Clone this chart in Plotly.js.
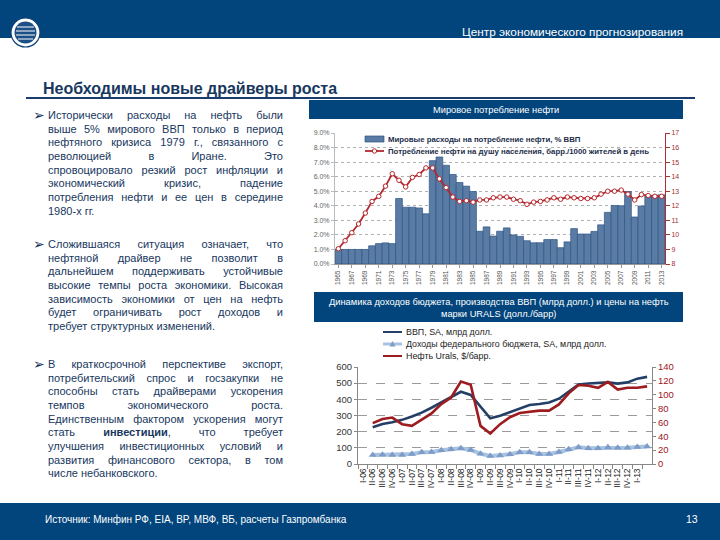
<!DOCTYPE html>
<html><head><meta charset="utf-8">
<script src="https://cdn.plot.ly/plotly-3.0.1.min.js"></script>
<style>
body{margin:0;background:#fff;}
#wrap{position:relative;width:720px;height:540px;overflow:hidden;}
#chart{position:absolute;left:0;top:0;width:720px;height:540px;}
.para{position:absolute;left:48px;width:235px;font-family:'Liberation Sans',Arial,sans-serif;font-size:11px;line-height:13.65px;color:#17375e;}
.para div{text-align:justify;text-align-last:justify;white-space:normal;}
.para div.last{text-align-last:left;}
.bul{position:absolute;left:-15px;top:-1px;font-family:'DejaVu Sans',sans-serif;font-size:14px;line-height:14px;color:#17375e;}
</style></head>
<body><div id="wrap"><div id="chart"></div>
<div class="para" style="top:109px"><span class="bul">➢</span>
<div>Исторически расходы на нефть были</div>
<div>выше 5% мирового ВВП только в период</div>
<div>нефтяного кризиса 1979 г., связанного с</div>
<div>революцией в Иране. Это</div>
<div>спровоцировало резкий рост инфляции и</div>
<div>экономический кризис, падение</div>
<div>потребления нефти и ее цен в середине</div>
<div class="last">1980-х гг.</div>
</div>
<div class="para" style="top:238px"><span class="bul">➢</span>
<div>Сложившаяся ситуация означает, что</div>
<div>нефтяной драйвер не позволит в</div>
<div>дальнейшем поддерживать устойчивые</div>
<div>высокие темпы роста экономики. Высокая</div>
<div>зависимость экономики от цен на нефть</div>
<div>будет ограничивать рост доходов и</div>
<div class="last">требует структурных изменений.</div>
</div>
<div class="para" style="top:358px"><span class="bul">➢</span>
<div>В краткосрочной перспективе экспорт,</div>
<div>потребительский спрос и госзакупки не</div>
<div>способны стать драйверами ускорения</div>
<div>темпов экономического роста.</div>
<div>Единственным фактором ускорения могут</div>
<div>стать <b>инвестиции</b>, что требует</div>
<div>улучшения инвестиционных условий и</div>
<div>развития финансового сектора, в том</div>
<div class="last">числе небанковского.</div>
</div>
</div>
<script>
// ---- top chart data ----
const years = [1965,1966,1967,1968,1969,1970,1971,1972,1973,1974,1975,1976,1977,1978,1979,1980,1981,1982,1983,1984,1985,1986,1987,1988,1989,1990,1991,1992,1993,1994,1995,1996,1997,1998,1999,2000,2001,2002,2003,2004,2005,2006,2007,2008,2009,2010,2011,2012,2013];
const spendShare = [1.0,1.0,1.0,1.0,1.0,1.25,1.4,1.45,1.4,4.5,3.9,3.9,3.85,3.45,7.1,7.35,6.78,6.15,5.6,5.35,4.98,2.25,2.55,1.92,2.25,2.48,2.0,1.9,1.6,1.46,1.46,1.68,1.68,1.12,1.52,2.43,2.06,2.06,2.24,2.69,3.55,4.02,4.0,4.98,3.23,3.98,4.66,4.73,4.75];
const perCapita = [9.05,9.6,10.15,10.75,11.5,12.3,12.65,13.35,14.2,13.75,13.3,13.95,14.15,14.6,14.6,13.85,13.25,12.6,12.3,12.35,12.25,12.4,12.4,12.55,12.6,12.6,12.45,12.35,12.1,12.25,12.3,12.4,12.55,12.45,12.6,12.55,12.5,12.5,12.55,12.8,13.0,13.0,13.08,12.8,12.4,12.77,12.7,12.65,12.65];
const yearTicks = [1965,1967,1969,1971,1973,1975,1977,1979,1981,1983,1985,1987,1989,1991,1993,1995,1997,1999,2001,2003,2005,2007,2009,2011,2013];
const topLegend = ['Мировые расходы на потребление нефти, % ВВП','Потребление нефти на душу населения, барр./1000 жителей в день'];

// ---- bottom chart data ----
const quarters = ['I-06','II-06','III-06','IV-06','I-07','II-07','III-07','IV-07','I-08','II-08','III-08','IV-08','I-09','II-09','III-09','IV-09','I-10','II-10','III-10','IV-10','I-11','II-11','III-11','IV-11','I-12','II-12','III-12','IV-12','I-13','II-13'];
const quarterLabels = ['I-06','II-06','III-06','IV-06','I-07','II-07','III-07','IV-07','I-08','II-08','III-08','IV-08','I-09','II-09','III-09','IV-09','I-10','II-10','III-10','IV-10','I-11','II-11','III-11','IV-11','I-12','II-12','III-12','IV-12','I-13'];
const gdp = [null,228,247,258,273,294,318,348,381,410,447,427,357,283,299,321,346,365,371,380,404,449,491,498,501,505,497,505,528,539];
const budget = [null,56,57,56,56,62,72,74,85,91,97,87,64,50,52,60,72,72,62,62,74,91,103,97,97,103,101,101,105,108];
const urals = [null,59,65,67,57.5,55,64.5,73,86.5,96,119,114.5,55,44,57.5,67.5,73.5,75.5,77,77,86,102,114,113,110,118.5,107.5,110,110,112];
const bottomLegend = ['ВВП, SA, млрд долл.','Доходы федерального бюджета, SA, млрд долл.','Нефть Urals, $/барр.'];

// ---- texts ----
const headerText = 'Центр экономического прогнозирования';
const slideTitle = 'Необходимы новые драйверы роста';
const topTitle = 'Мировое потребление нефти';
const bottomTitle = 'Динамика доходов бюджета, производства ВВП (млрд долл.) и цены на нефть<br>марки URALS (долл./барр)';
const sourceText = 'Источник: Минфин РФ, EIA, BP, МВФ, ВБ, расчеты Газпромбанка';
const pageNo = '13';

const W=720,H=540;
const px=x=>x/W, py=y=>1-y/H;
const NAVY='#01457c', BAR='#5a7ca4', RED='#b5272d', GDPC='#243f66', URC='#9c1c20', BUDL='#a8c2e2', BUDM='#7d9bc6', TXT='#17375e';
const F='Liberation Sans, Arial, sans-serif';

const traces = [
 {type:'bar',x:years,y:spendShare,xaxis:'x',yaxis:'y',marker:{color:BAR,line:{color:'#2d5585',width:0.7}},showlegend:false,hoverinfo:'skip'},
 {type:'scatter',mode:'lines+markers',x:years,y:perCapita,xaxis:'x',yaxis:'y2',line:{color:RED,width:1.8},marker:{symbol:'circle',size:4.5,color:'#fff',line:{color:RED,width:1}},showlegend:false},
 {type:'scatter',mode:'lines+markers',x:quarters,y:budget,xaxis:'x2',yaxis:'y3',line:{color:BUDL,width:4},marker:{symbol:'triangle-up',size:7,color:BUDM},showlegend:false},
 {type:'scatter',mode:'lines',x:quarters,y:gdp,xaxis:'x2',yaxis:'y3',line:{color:GDPC,width:2.6},showlegend:false},
 {type:'scatter',mode:'lines',x:quarters,y:urals,xaxis:'x2',yaxis:'y4',line:{color:URC,width:2.6},showlegend:false}
];

const shapes = [
 {type:'rect',xref:'paper',yref:'paper',x0:0,x1:1,y0:py(38),y1:1,fillcolor:NAVY,line:{width:0},layer:'below'},
 {type:'rect',xref:'paper',yref:'paper',x0:0,x1:1,y0:0,y1:py(503),fillcolor:NAVY,line:{width:0},layer:'below'},
 {type:'circle',xref:'paper',yref:'paper',x0:px(11),x1:px(40),y0:py(47),y1:py(18),fillcolor:'#fff',line:{color:'#0d4275',width:1.2}},
 {type:'circle',xref:'paper',yref:'paper',x0:px(14.5),x1:px(36.5),y0:py(43.5),y1:py(21.5),fillcolor:'#1b4f86',line:{width:0}},
 {type:'line',xref:'paper',yref:'paper',x0:px(17),x1:px(34),y0:py(27),y1:py(27),line:{color:'#fff',width:1}},
 {type:'line',xref:'paper',yref:'paper',x0:px(16),x1:px(35),y0:py(31),y1:py(31),line:{color:'#fff',width:1}},
 {type:'line',xref:'paper',yref:'paper',x0:px(16),x1:px(35),y0:py(35),y1:py(35),line:{color:'#fff',width:1}},
 {type:'line',xref:'paper',yref:'paper',x0:px(18),x1:px(33),y0:py(39),y1:py(39),line:{color:'#fff',width:1}},
 {type:'line',xref:'paper',yref:'paper',x0:px(26),x1:px(695),y0:py(98),y1:py(98),line:{color:'#1b3d6e',width:2}},
 {type:'rect',xref:'paper',yref:'paper',x0:px(309),x1:px(683),y0:py(119),y1:py(100),fillcolor:NAVY,line:{width:0}},
 {type:'rect',xref:'paper',yref:'paper',x0:px(314),x1:px(683),y0:py(322),y1:py(292),fillcolor:NAVY,line:{width:0}},
 // top legend samples
 {type:'rect',xref:'paper',yref:'paper',x0:px(365),x1:px(384),y0:py(142),y1:py(136),fillcolor:BAR,line:{color:'#2d5585',width:0.7}},
 {type:'line',xref:'paper',yref:'paper',x0:px(365),x1:px(384),y0:py(151),y1:py(151),line:{color:RED,width:1.8}},
 {type:'circle',xref:'paper',yref:'paper',x0:px(372.3),x1:px(376.7),y0:py(153.2),y1:py(148.8),fillcolor:'#fff',line:{color:RED,width:1}},
 // bottom legend samples
 {type:'line',xref:'paper',yref:'paper',x0:px(383),x1:px(402),y0:py(332),y1:py(332),line:{color:GDPC,width:2}},
 {type:'line',xref:'paper',yref:'paper',x0:px(383),x1:px(402),y0:py(344),y1:py(344),line:{color:BUDL,width:3}},
 {type:'path',xref:'paper',yref:'paper',path:`M ${px(389.5)} ${py(346.5)} L ${px(392.5)} ${py(341)} L ${px(395.5)} ${py(346.5)} Z`,fillcolor:BUDM,line:{width:0}},
 {type:'line',xref:'paper',yref:'paper',x0:px(383),x1:px(402),y0:py(356),y1:py(356),line:{color:URC,width:2}}
];

const ann = (x,y,text,opt)=>Object.assign({xref:'paper',yref:'paper',x:px(x),y:py(y),text:text,showarrow:false,xanchor:'left',yanchor:'middle',font:{family:F,size:9,color:'#fff'}},opt||{});
const annotations = [
 ann(685,32,headerText,{xanchor:'right',font:{family:F,size:11.8,color:'#fff'}}),
 ann(41,88,'<b>'+slideTitle+'</b>',{font:{family:F,size:16,color:TXT}}),
 ann(496,110,topTitle,{xanchor:'center',font:{family:F,size:9.3,color:'#fff'}}),
 ann(498.5,307.5,bottomTitle,{xanchor:'center',font:{family:F,size:9.3,color:'#fff'}}),
 ann(43,519,sourceText,{font:{family:F,size:10,color:'#fff'}}),
 ann(700,519,pageNo,{xanchor:'right',font:{family:F,size:10.5,color:'#fff'}}),
 ann(386,139,'<b>'+topLegend[0]+'</b>',{font:{family:F,size:7.8,color:'#1c2d4a'}}),
 ann(386,151,'<b>'+topLegend[1]+'</b>',{font:{family:F,size:7.8,color:'#1c2d4a'}}),
 ann(404,332,bottomLegend[0],{font:{family:F,size:8.9,color:'#222'}}),
 ann(404,344,bottomLegend[1],{font:{family:F,size:8.9,color:'#222'}}),
 ann(404,356,bottomLegend[2],{font:{family:F,size:8.9,color:'#222'}})
];

const layout = {
 width:W,height:H,margin:{l:0,r:0,t:0,b:0},paper_bgcolor:'#fff',plot_bgcolor:'rgba(0,0,0,0)',
 font:{family:F},bargap:0,showlegend:false,
 xaxis:{domain:[px(335),px(665)],anchor:'y',range:[1964.5,2013.5],tickmode:'array',tickvals:yearTicks,ticktext:yearTicks.map(String),tickangle:-90,tickfont:{size:6.5,color:'#555'},showline:true,linecolor:'#999',linewidth:1,ticks:'outside',ticklen:3,tickcolor:'#999',showgrid:false,zeroline:false,fixedrange:true},
 yaxis:{domain:[py(264),py(133)],anchor:'x',range:[0,9],dtick:1,tickformat:'.1f',ticksuffix:'%',showgrid:true,gridcolor:'#b0b0b0',griddash:'dot',gridwidth:1,showline:true,linecolor:'#bbb',ticks:'outside',ticklen:3,tickcolor:'#bbb',tickfont:{size:7,color:'#666'},zeroline:false},
 yaxis2:{overlaying:'y',side:'right',anchor:'x',range:[8,17],dtick:1,showgrid:false,showline:true,linecolor:'#b03030',ticks:'outside',ticklen:4,tickcolor:'#b03030',tickfont:{size:7,color:'#a03030'},zeroline:false},
 xaxis2:{domain:[px(358),px(652)],anchor:'y3',type:'category',categoryorder:'array',categoryarray:quarters,range:[-0.5,29.5],tickmode:'array',tickvals:quarterLabels,ticktext:quarterLabels,tickangle:-90,tickfont:{size:8.5,color:'#222'},showline:true,linecolor:'#888',ticks:'outside',tickson:'boundaries',ticklen:4,tickcolor:'#888',showgrid:false,zeroline:false},
 yaxis3:{domain:[py(464),py(367)],anchor:'x2',range:[0,600],dtick:100,showgrid:true,gridcolor:'#9a9a9a',griddash:'dash',gridwidth:1,showline:true,linecolor:'#888',ticks:'outside',ticklen:3,tickcolor:'#888',tickfont:{size:9.5,color:'#333'},zeroline:false},
 yaxis4:{overlaying:'y3',side:'right',anchor:'x2',range:[0,140],dtick:20,showgrid:false,showline:true,linecolor:'#888',ticks:'outside',ticklen:3,tickcolor:'#888',tickfont:{size:9.5,color:'#a0141c'},zeroline:false},
 shapes:shapes,annotations:annotations
};
Plotly.newPlot('chart',traces,layout,{staticPlot:true,displayModeBar:false});
</script></body></html>
